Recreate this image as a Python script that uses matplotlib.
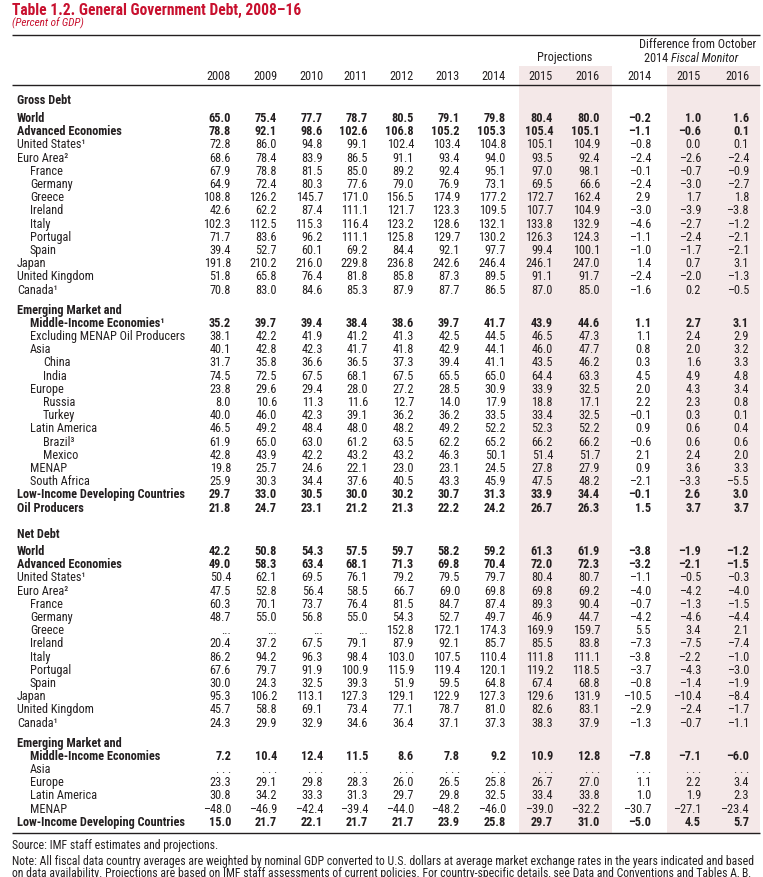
import matplotlib
matplotlib.use("Agg")
import matplotlib.pyplot as plt
from matplotlib import font_manager
from matplotlib.patches import Rectangle

# ---- data -------------------------------------------------------------
years = ["2008", "2009", "2010", "2011", "2012", "2013", "2014", "2015", "2016"]
diff_years = ["2014", "2015", "2016"]

gross_labels = ["World", "Advanced Economies", "United States\u00b9", "Euro Area\u00b2",
                "France", "Germany", "Greece", "Ireland", "Italy", "Portugal", "Spain",
                "Japan", "United Kingdom", "Canada\u00b9",
                "Emerging Market and", "Middle-Income Economies\u00b9",
                "Excluding MENAP Oil Producers", "Asia", "China", "India", "Europe",
                "Russia", "Turkey", "Latin America", "Brazil\u00b3", "Mexico", "MENAP",
                "South Africa", "Low-Income Developing Countries", "Oil Producers"]

gross_values = [
    [65.0, 75.4, 77.7, 78.7, 80.5, 79.1, 79.8, 80.4, 80.0],
    [78.8, 92.1, 98.6, 102.6, 106.8, 105.2, 105.3, 105.4, 105.1],
    [72.8, 86.0, 94.8, 99.1, 102.4, 103.4, 104.8, 105.1, 104.9],
    [68.6, 78.4, 83.9, 86.5, 91.1, 93.4, 94.0, 93.5, 92.4],
    [67.9, 78.8, 81.5, 85.0, 89.2, 92.4, 95.1, 97.0, 98.1],
    [64.9, 72.4, 80.3, 77.6, 79.0, 76.9, 73.1, 69.5, 66.6],
    [108.8, 126.2, 145.7, 171.0, 156.5, 174.9, 177.2, 172.7, 162.4],
    [42.6, 62.2, 87.4, 111.1, 121.7, 123.3, 109.5, 107.7, 104.9],
    [102.3, 112.5, 115.3, 116.4, 123.2, 128.6, 132.1, 133.8, 132.9],
    [71.7, 83.6, 96.2, 111.1, 125.8, 129.7, 130.2, 126.3, 124.3],
    [39.4, 52.7, 60.1, 69.2, 84.4, 92.1, 97.7, 99.4, 100.1],
    [191.8, 210.2, 216.0, 229.8, 236.8, 242.6, 246.4, 246.1, 247.0],
    [51.8, 65.8, 76.4, 81.8, 85.8, 87.3, 89.5, 91.1, 91.7],
    [70.8, 83.0, 84.6, 85.3, 87.9, 87.7, 86.5, 87.0, 85.0],
    None,
    [35.2, 39.7, 39.4, 38.4, 38.6, 39.7, 41.7, 43.9, 44.6],
    [38.1, 42.2, 41.9, 41.2, 41.3, 42.5, 44.5, 46.5, 47.3],
    [40.1, 42.8, 42.3, 41.7, 41.8, 42.9, 44.1, 46.0, 47.7],
    [31.7, 35.8, 36.6, 36.5, 37.3, 39.4, 41.1, 43.5, 46.2],
    [74.5, 72.5, 67.5, 68.1, 67.5, 65.5, 65.0, 64.4, 63.3],
    [23.8, 29.6, 29.4, 28.0, 27.2, 28.5, 30.9, 33.9, 32.5],
    [8.0, 10.6, 11.3, 11.6, 12.7, 14.0, 17.9, 18.8, 17.1],
    [40.0, 46.0, 42.3, 39.1, 36.2, 36.2, 33.5, 33.4, 32.5],
    [46.5, 49.2, 48.4, 48.0, 48.2, 49.2, 52.2, 52.3, 52.2],
    [61.9, 65.0, 63.0, 61.2, 63.5, 62.2, 65.2, 66.2, 66.2],
    [42.8, 43.9, 42.2, 43.2, 43.2, 46.3, 50.1, 51.4, 51.7],
    [19.8, 25.7, 24.6, 22.1, 23.0, 23.1, 24.5, 27.8, 27.9],
    [25.9, 30.3, 34.4, 37.6, 40.5, 43.3, 45.9, 47.5, 48.2],
    [29.7, 33.0, 30.5, 30.0, 30.2, 30.7, 31.3, 33.9, 34.4],
    [21.8, 24.7, 23.1, 21.2, 21.3, 22.2, 24.2, 26.7, 26.3],
]
gross_diff = [
    [-0.2, 1.0, 1.6], [-1.1, -0.6, 0.1], [-0.8, 0.0, 0.1], [-2.4, -2.6, -2.4],
    [-0.1, -0.7, -0.9], [-2.4, -3.0, -2.7], [2.9, 1.7, 1.8], [-3.0, -3.9, -3.8],
    [-4.6, -2.7, -1.2], [-1.1, -2.4, -2.1], [-1.0, -1.7, -2.1], [1.4, 0.7, 3.1],
    [-2.4, -2.0, -1.3], [-1.6, 0.2, -0.5],
    None,
    [1.1, 2.7, 3.1], [1.1, 2.4, 2.9], [0.8, 2.0, 3.2], [0.3, 1.6, 3.3], [4.5, 4.9, 4.8],
    [2.0, 4.3, 3.4], [2.2, 2.3, 0.8], [-0.1, 0.3, 0.1], [0.9, 0.6, 0.4],
    [-0.6, 0.6, 0.6], [2.1, 2.4, 2.0], [0.9, 3.6, 3.3], [-2.1, -3.3, -5.5],
    [-0.1, 2.6, 3.0], [1.5, 3.7, 3.7],
]

net_labels = ["World", "Advanced Economies", "United States\u00b9", "Euro Area\u00b2",
              "France", "Germany", "Greece", "Ireland", "Italy", "Portugal", "Spain",
              "Japan", "United Kingdom", "Canada\u00b9",
              "Emerging Market and", "Middle-Income Economies", "Asia", "Europe",
              "Latin America", "MENAP", "Low-Income Developing Countries"]

net_values = [
    [42.2, 50.8, 54.3, 57.5, 59.7, 58.2, 59.2, 61.3, 61.9],
    [49.0, 58.3, 63.4, 68.1, 71.3, 69.8, 70.4, 72.0, 72.3],
    [50.4, 62.1, 69.5, 76.1, 79.2, 79.5, 79.7, 80.4, 80.7],
    [47.5, 52.8, 56.4, 58.5, 66.7, 69.0, 69.8, 69.8, 69.2],
    [60.3, 70.1, 73.7, 76.4, 81.5, 84.7, 87.4, 89.3, 90.4],
    [48.7, 55.0, 56.8, 55.0, 54.3, 52.7, 49.7, 46.9, 44.7],
    [None, None, None, None, 152.8, 172.1, 174.3, 169.9, 159.7],
    [20.4, 37.2, 67.5, 79.1, 87.9, 92.1, 85.7, 85.5, 83.8],
    [86.2, 94.2, 96.3, 98.4, 103.0, 107.5, 110.4, 111.8, 111.1],
    [67.6, 79.7, 91.9, 100.9, 115.9, 119.4, 120.1, 119.2, 118.5],
    [30.0, 24.3, 32.5, 39.3, 51.9, 59.5, 64.8, 67.4, 68.8],
    [95.3, 106.2, 113.1, 127.3, 129.1, 122.9, 127.3, 129.6, 131.9],
    [45.7, 58.8, 69.1, 73.4, 77.1, 78.7, 81.0, 82.6, 83.1],
    [24.3, 29.9, 32.9, 34.6, 36.4, 37.1, 37.3, 38.3, 37.9],
    None,
    [7.2, 10.4, 12.4, 11.5, 8.6, 7.8, 9.2, 10.9, 12.8],
    ["na"] * 9,
    [23.3, 29.1, 29.8, 28.3, 26.0, 26.5, 25.8, 26.7, 27.0],
    [30.8, 34.2, 33.3, 31.3, 29.7, 29.8, 32.5, 33.4, 33.8],
    [-48.0, -46.9, -42.4, -39.4, -44.0, -48.2, -46.0, -39.0, -32.2],
    [15.0, 21.7, 22.1, 21.7, 21.7, 23.9, 25.8, 29.7, 31.0],
]
net_diff = [
    [-3.8, -1.9, -1.2], [-3.2, -2.1, -1.5], [-1.1, -0.5, -0.3], [-4.0, -4.2, -4.0],
    [-0.7, -1.3, -1.5], [-4.2, -4.6, -4.4], [5.5, 3.4, 2.1], [-7.3, -7.5, -7.4],
    [-3.8, -2.2, -1.0], [-3.7, -4.3, -3.0], [-0.8, -1.4, -1.9], [-10.5, -10.4, -8.4],
    [-2.9, -2.4, -1.7], [-1.3, -0.7, -1.1],
    None,
    [-7.8, -7.1, -6.0], ["na"] * 3, [1.1, 2.2, 3.4], [1.0, 1.9, 2.3],
    [-30.7, -27.1, -23.4], [-5.0, 4.5, 5.7],
]

# ---- styles (kept apart from the data) ----------------------------------
gross_indent = [0, 0, 0, 0, 1, 1, 1, 1, 1, 1, 1, 0, 0, 0,
                0, 1, 1, 1, 2, 2, 1, 2, 2, 1, 2, 2, 1, 1, 0, 0]
gross_bold = [1, 1, 0, 0, 0, 0, 0, 0, 0, 0, 0, 0, 0, 0,
              1, 1, 0, 0, 0, 0, 0, 0, 0, 0, 0, 0, 0, 0, 1, 1]
net_indent = [0, 0, 0, 0, 1, 1, 1, 1, 1, 1, 1, 0, 0, 0, 0, 1, 1, 1, 1, 1, 0]
net_bold = [1, 1, 0, 0, 0, 0, 0, 0, 0, 0, 0, 0, 0, 0, 1, 1, 0, 0, 0, 0, 1]

names = {f.name for f in font_manager.fontManager.ttflist}
FONT = "DejaVu Sans"
for cand in ["Liberation Sans Narrow", "Roboto Condensed", "DejaVu Sans Condensed",
             "Liberation Sans"]:
    if cand in names:
        FONT = cand
        break
plt.rcParams["font.family"] = [FONT, "DejaVu Sans"]

RED = "#c8102e"
INK = "#231f20"
SHADE = "#f4e8e8"
FS = 8.8

col_right = [231, 277, 323, 368, 414, 460, 506, 553, 600]
diff_right = [651, 701, 749]
indent_x = [17, 30, 43]
step = 13.2


def fmt(v):
    if v is None:
        return "..."
    if v == "na":
        return ". . ."
    s = "%.1f" % abs(v)
    return ("\u2013" + s) if v < 0 else s


fig = plt.figure(figsize=(7.63, 8.77), dpi=100)
ax = fig.add_axes([0, 0, 1, 1])
ax.set_xlim(0, 763)
ax.set_ylim(877, 0)
ax.axis("off")

# shaded projection columns
ax.add_patch(Rectangle((519, 66), 93, 767, color=SHADE, lw=0, zorder=0))
ax.add_patch(Rectangle((667, 66), 93, 767, color=SHADE, lw=0, zorder=0))

# title
ax.text(12, 10, "Table 1.2. General Government Debt, 2008\u201316", color=RED,
        fontsize=11.2, fontweight="bold", va="center", ha="left")
ax.text(12, 23, "(Percent of GDP)", color=RED, fontsize=8, style="italic",
        va="center", ha="left")

for yy in [35, 85, 833]:
    ax.plot([12, 760], [yy, yy], color=INK, lw=1.0, solid_capstyle="butt")

# header
ax.text(565, 58, "Projections", fontsize=FS, color=INK, ha="center", va="center")
ax.text(698, 44, "Difference from October", fontsize=FS, color=INK,
        ha="center", va="center")
ax.text(671, 59, "2014 ", fontsize=FS, color=INK, ha="right", va="center")
ax.text(671, 59, "Fiscal Monitor", fontsize=FS, color=INK, style="italic",
        ha="left", va="center")
for x, yr in zip(col_right, years):
    ax.text(x, 76, yr, fontsize=FS, color=INK, ha="right", va="center")
for x, yr in zip(diff_right, diff_years):
    ax.text(x, 76, yr, fontsize=FS, color=INK, ha="right", va="center")


def draw_section(title, y_title, y0, labels, values, diffs, indent, bold):
    ax.text(indent_x[0], y_title, title, fontsize=FS, fontweight="bold",
            color=INK, ha="left", va="center")
    y = y0
    for i, lab in enumerate(labels):
        if lab == "Emerging Market and":
            y += 6.8
        w = "bold" if bold[i] else "normal"
        ax.text(indent_x[indent[i]], y, lab, fontsize=FS, fontweight=w,
                color=INK, ha="left", va="center")
        if values[i] is not None:
            for x, v in zip(col_right, values[i]):
                ax.text(x, y, fmt(v), fontsize=FS, fontweight=w, color=INK,
                        ha="right", va="center")
            for x, v in zip(diff_right, diffs[i]):
                ax.text(x, y, fmt(v), fontsize=FS, fontweight=w, color=INK,
                        ha="right", va="center")
        y += step
    return y


draw_section("Gross Debt", 101, 118.5, gross_labels, gross_values, gross_diff,
             gross_indent, gross_bold)
draw_section("Net Debt", 534, 551.5, net_labels, net_values, net_diff,
             net_indent, net_bold)

# notes
ax.text(12, 845, "Source: IMF staff estimates and projections.", fontsize=8.5,
        color=INK, ha="left", va="center")
ax.text(12, 861, "Note: All fiscal data country averages are weighted by nominal GDP "
        "converted to U.S. dollars at average market exchange rates in the years "
        "indicated and based", fontsize=8.5, color=INK, ha="left", va="center")
ax.text(12, 874, "on data availability. Projections are based on IMF staff assessments "
        "of current policies. For country-specific details, see Data and Conventions "
        "and Tables A, B,", fontsize=8.5, color=INK, ha="left", va="center")

fig.savefig("out.png", dpi=100)
